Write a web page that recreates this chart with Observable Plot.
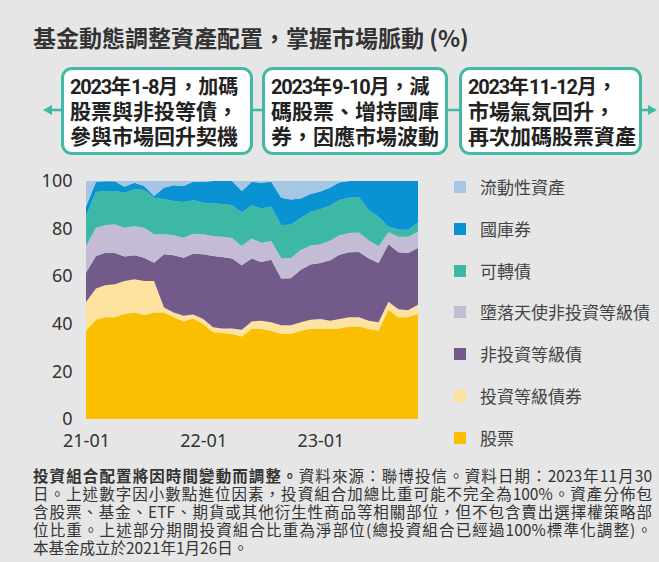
<!DOCTYPE html>
<html>
<head>
<meta charset="utf-8">
<script src="https://cdn.jsdelivr.net/npm/d3@7"></script>
<script src="https://cdn.jsdelivr.net/npm/@observablehq/plot@0.6"></script>
<style>
  html, body { margin: 0; padding: 0; }
  body { width: 659px; height: 562px; background: #e6e6e6; position: relative; overflow: hidden;
         font-family: "Noto Sans CJK TC", "Noto Sans", sans-serif; color: #333; }
  #title { position: absolute; left: 33px; top: 22px; font-size: 23px; line-height: 30px; font-weight: 700; color: #333; white-space: nowrap; }
  .box { position: absolute; top: 67px; height: 88px; box-sizing: border-box; border: 3px solid #42b8a5; border-radius: 11px;
         background: #fff; padding: 5px 0 0 6px; font-family: "Roboto", "Noto Sans CJK TC", sans-serif;
         font-size: 21px; line-height: 25px; font-weight: 700; color: #222; white-space: nowrap; }
  .box .l1 { font-size: 20px; }
  .box .n { letter-spacing: -1.2px; }
  #conn { position: absolute; left: 0; top: 0; }
  #chart { position: absolute; left: 0; top: 166px; }
  #legend { position: absolute; left: 454px; top: 0; }
  .lg { position: absolute; left: 0; white-space: nowrap; font-size: 17px; line-height: 20px; color: #444; }
  .lg span.sw { position: absolute; left: 0; top: 4px; width: 12px; height: 12px; }
  .lg span.tx { position: absolute; left: 26px; top: 0; }
  #foot { position: absolute; left: 33px; top: 466px; width: 619px; font-size: 15.5px; line-height: 18px; color: #333; }
  #foot div { text-align: justify; text-align-last: justify; }
  #foot div.last { text-align-last: left; }
</style>
</head>
<body>
<div id="title">基金動態調整資產配置，掌握市場脈動 (%)</div>
<svg id="conn" width="659" height="170">
  <line x1="50" y1="110" x2="650" y2="110" stroke="#42b8a5" stroke-width="2.5"/>
  <polygon points="43,110 52,105 52,115" fill="#42b8a5"/>
  <polygon points="657,110 648,105 648,115" fill="#42b8a5"/>
</svg>
<div class="box" style="left:61px;width:192px;"><span class="l1"><span class="n">2023</span>年<span class="n">1-8</span>月，加碼</span><br>股票與非投等債，<br>參與市場回升契機</div>
<div class="box" style="left:262px;width:186px;"><span class="l1"><span class="n">2023</span>年<span class="n">9-10</span>月，減</span><br>碼股票、增持國庫<br>券，因應市場波動</div>
<div class="box" style="left:459px;width:183px;"><span class="l1"><span class="n">2023</span>年<span class="n">11-12</span>月，</span><br>市場氣氛回升，<br>再次加碼股票資產</div>
<div id="chart"></div>
<div id="legend"></div>
<div id="foot">
  <div><b>投資組合配置將因時間變動而調整。</b>資料來源：聯博投信。資料日期：2023年11月30</div>
  <div>日。上述數字因小數點進位因素，投資組合加總比重可能不完全為100%。資產分佈包</div>
  <div>含股票、基金、ETF、期貨或其他衍生性商品等相關部位，但不包含賣出選擇權策略部</div>
  <div>位比重。上述部分期間投資組合比重為淨部位(總投資組合已經過100%標準化調整)。</div>
  <div class="last">本基金成立於2021年1月26日。</div>
</div>
<script>
const months = ["2021-01","2021-02","2021-03","2021-04","2021-05","2021-06","2021-07","2021-08","2021-09","2021-10","2021-11","2021-12",
  "2022-01","2022-02","2022-03","2022-04","2022-05","2022-06","2022-07","2022-08","2022-09","2022-10","2022-11","2022-12",
  "2023-01","2023-02","2023-03","2023-04","2023-05","2023-06","2023-07","2023-08","2023-09","2023-10","2023-11"];
const xTicks = ["2021-01","2022-01","2023-01"];
const yTicks = [0, 20, 40, 60, 80, 100];

const equity = [37.1,41.7,42.7,42.7,44.1,44.8,43.6,44.8,44.8,42.7,41.0,42.2,39.9,36.4,36.1,35.7,34.7,37.8,37.8,37.1,35.7,35.7,37.1,37.8,38.0,37.8,38.0,38.9,38.9,37.8,37.1,45.8,42.8,42.7,44.1];
const igBond = [12.1,13.1,13.5,13.9,13.9,13.9,14.4,13.2,2.1,2.1,2.4,1.7,2.1,2.1,1.9,2.3,2.8,3.2,3.5,3.5,3.7,3.7,3.5,3.9,4.0,3.5,4.0,3.8,3.8,3.5,3.5,3.5,3.3,3.0,3.9];
const hyBond = [12.3,13.7,13.5,13.1,10.3,10.1,9.8,7.7,22.3,24.0,24.4,25.5,27.2,30.0,30.1,29.4,27.1,26.4,24.7,26.3,19.6,19.7,22.1,23.2,23.5,25.4,27.0,27.4,27.5,26.1,24.9,24.1,24.0,24.1,23.8];
const fallenAngel = [11.2,11.9,11.7,12.1,12.1,12.3,12.6,11.9,8.4,8.4,8.4,8.4,8.4,8.4,8.5,8.7,8.1,8.4,8.1,7.9,8.5,8.5,8.3,8.0,7.9,8.3,8.2,8.0,8.2,7.6,7.1,5.1,6.5,6.8,7.0];
const convertible = [12.6,15.0,14.4,14.0,14.7,15.4,15.8,15.4,14.7,14.4,15.0,14.1,13.3,13.7,13.7,13.7,14.0,14.0,14.3,14.4,14.0,14.0,13.5,14.1,14.7,14.7,14.8,14.9,14.8,12.8,12.4,2.3,2.9,2.9,3.7];
const tbill = [4.0,4.3,4.1,4.1,2.5,2.8,1.7,0.7,4.9,6.6,6.7,7.8,8.7,9.4,9.7,10.2,9.1,9.8,10.9,10.5,11.5,10.6,8.1,7.5,7.5,7.6,7.4,7.0,6.8,12.2,15.0,19.2,20.5,20.5,17.5];
const liquidity = [10.7,0.3,0.1,0.1,2.4,0.7,2.1,6.3,2.8,1.8,2.1,0.3,0.4,0,0,0,4.2,0.4,0.7,0.3,7.0,7.8,7.4,5.5,4.4,2.7,0.6,0,0,0,0,0,0,0,0];

// stacking order: bottom to top
const seriesNames = ["股票","投資等級債券","非投資等級債","墮落天使非投資等級債","可轉債","國庫券","流動性資產"];
const seriesValues = [equity, igBond, hyBond, fallenAngel, convertible, tbill, liquidity];
const seriesColors = ["#f9bf00","#fee29f","#725a8a","#c3bcd4","#3db8a4","#0a93d3","#a6c7e3"];

const parse = d3.utcParse("%Y-%m");
const data = [];
seriesNames.forEach((s, k) => {
  seriesValues[k].forEach((v, i) => data.push({date: parse(months[i]), series: s, value: v}));
});

const chart = Plot.plot({
  width: 430,
  height: 288,
  marginLeft: 86,
  marginRight: 12,
  marginTop: 15,
  marginBottom: 35,
  style: {background: "transparent", fontFamily: "'Noto Sans', sans-serif", fontSize: "18px", color: "#333"},
  x: {type: "utc", domain: [parse(months[0]), parse(months[months.length - 1])],
      ticks: xTicks.map(parse), tickFormat: d3.utcFormat("%y-%m"), tickSize: 0, tickPadding: 15, label: null},
  y: {domain: [0, 100], ticks: yTicks, tickSize: 0, tickPadding: 14, label: null},
  color: {domain: seriesNames, range: seriesColors},
  marks: [
    Plot.areaY(data, {x: "date", y: "value", z: "series", fill: "series", order: seriesNames, curve: "linear"})
  ]
});
document.getElementById("chart").appendChild(chart);

// legend (top to bottom)
const legend = document.getElementById("legend");
const legendOrder = seriesNames.slice().reverse();
legendOrder.forEach((s, k) => {
  const row = document.createElement("div");
  row.className = "lg";
  row.style.top = (177 + k * 41.8) + "px";
  const sw = document.createElement("span");
  sw.className = "sw";
  sw.style.background = seriesColors[seriesNames.indexOf(s)];
  const tx = document.createElement("span");
  tx.className = "tx";
  tx.textContent = s;
  row.appendChild(sw); row.appendChild(tx);
  legend.appendChild(row);
});
</script>
</body>
</html>
